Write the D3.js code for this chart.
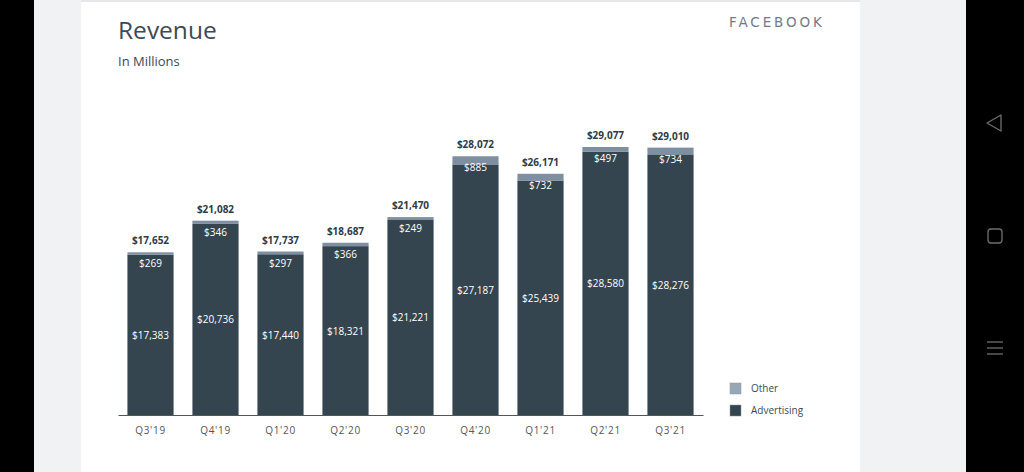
<!DOCTYPE html>
<html><head><meta charset="utf-8">
<script src="https://cdn.jsdelivr.net/npm/d3@7/dist/d3.min.js"></script>
<style>html,body{margin:0;padding:0;background:#000;}svg{display:block;}</style>
</head><body>
<svg id="c" width="1024" height="472"></svg>
<script>
const categories = ["Q3'19","Q4'19","Q1'20","Q2'20","Q3'20","Q4'20","Q1'21","Q2'21","Q3'21"];
const advertising = [17383, 20736, 17440, 18321, 21221, 27187, 25439, 28580, 28276];
const other = [269, 346, 297, 366, 249, 885, 732, 497, 734];
const totals = [17652, 21082, 17737, 18687, 21470, 28072, 26171, 29077, 29010];
const seriesNames = ["Other", "Advertising"];

const svg = d3.select("#c");
const font = "'Open Sans', 'DejaVu Sans', sans-serif";
const advColor = "#35454f", otherColor = "#7d8fa0", legendOther = "#98a7b6";

// frame
svg.append("rect").attr("x",0).attr("y",0).attr("width",1024).attr("height",472).attr("fill","#000");
svg.append("rect").attr("x",34).attr("y",0).attr("width",932).attr("height",472).attr("fill","#f1f2f4");
svg.append("rect").attr("x",81).attr("y",2).attr("width",779).attr("height",470).attr("fill","#fff");
svg.append("rect").attr("x",81).attr("y",0).attr("width",779).attr("height",2).attr("fill","#e6e7ea");

// nav icons
const nav = svg.append("g").attr("fill","none").attr("stroke","#6e6e6e").attr("stroke-width",1.3);
nav.append("path").attr("d","M1001,115 L987,123 L1001,131 Z").attr("stroke-linejoin","round");
nav.append("rect").attr("x",988).attr("y",229).attr("width",14).attr("height",14).attr("rx",3);
[342,348,354].forEach(y=>nav.append("line").attr("x1",987).attr("x2",1003).attr("y1",y).attr("y2",y));

// titles
svg.append("text").attr("x",118).attr("y",39).text("Revenue")
  .attr("font-family",font).attr("font-size",24.5).attr("fill","#3b4a55");
svg.append("text").attr("x",118).attr("y",66).text("In Millions")
  .attr("font-family",font).attr("font-size",13).attr("fill","#3b4a55");
svg.append("text").attr("x",729).attr("y",27).text("FACEBOOK")
  .attr("font-family","'DejaVu Sans', sans-serif").attr("font-size",13.5).attr("letter-spacing",2.9)
  .attr("fill","#6f7b87");

// scales
const x = d3.scaleBand().domain(categories).range([118,703]).paddingInner(0.29).paddingOuter(0.145);
const y = d3.scaleLinear().domain([0, 29077]).range([415, 147]);

const g = svg.append("g");
categories.forEach((c,i)=>{
  const bx = x(c), bw = x.bandwidth(), cx = bx + bw/2;
  g.append("rect").attr("x",bx).attr("width",bw).attr("y",y(advertising[i])).attr("height",y(0)-y(advertising[i])).attr("fill",advColor);
  g.append("rect").attr("x",bx).attr("width",bw).attr("y",y(totals[i])).attr("height",y(advertising[i])-y(totals[i])).attr("fill",otherColor);
  g.append("text").attr("x",cx).attr("y",y(totals[i])-8).attr("text-anchor","middle")
    .attr("font-family",font).attr("font-size",10).attr("font-weight","bold").attr("fill","#2e3b45")
    .text("$"+d3.format(",")(totals[i]));
  g.append("text").attr("x",cx).attr("y",y(totals[i])+15).attr("text-anchor","middle")
    .attr("font-family",font).attr("font-size",10).attr("fill","#fff")
    .text("$"+d3.format(",")(other[i]));
  g.append("text").attr("x",cx).attr("y",(y(advertising[i])+y(0))/2+4).attr("text-anchor","middle")
    .attr("font-family",font).attr("font-size",10).attr("fill","#fff")
    .text("$"+d3.format(",")(advertising[i]));
});

// axis
const ax = svg.append("g").attr("transform","translate(0,415)")
  .call(d3.axisBottom(x).tickSize(0).tickPadding(12));
ax.select(".domain").attr("stroke","#555").attr("stroke-width",1.2);
ax.selectAll("text").attr("font-family",font).attr("font-size",10).attr("fill","#555").attr("letter-spacing",0.7);

// legend
const lg = svg.append("g");
[[seriesNames[0], legendOther, 383],[seriesNames[1], advColor, 405]].forEach(([n,col,yy])=>{
  lg.append("rect").attr("x",730).attr("y",yy).attr("width",11).attr("height",11).attr("fill",col).attr("stroke","#8a96a2").attr("stroke-width",0.5);
  lg.append("text").attr("x",751).attr("y",yy+9).text(n).attr("font-family",font).attr("font-size",10).attr("fill","#3b4a55");
});
</script>
</body></html>
